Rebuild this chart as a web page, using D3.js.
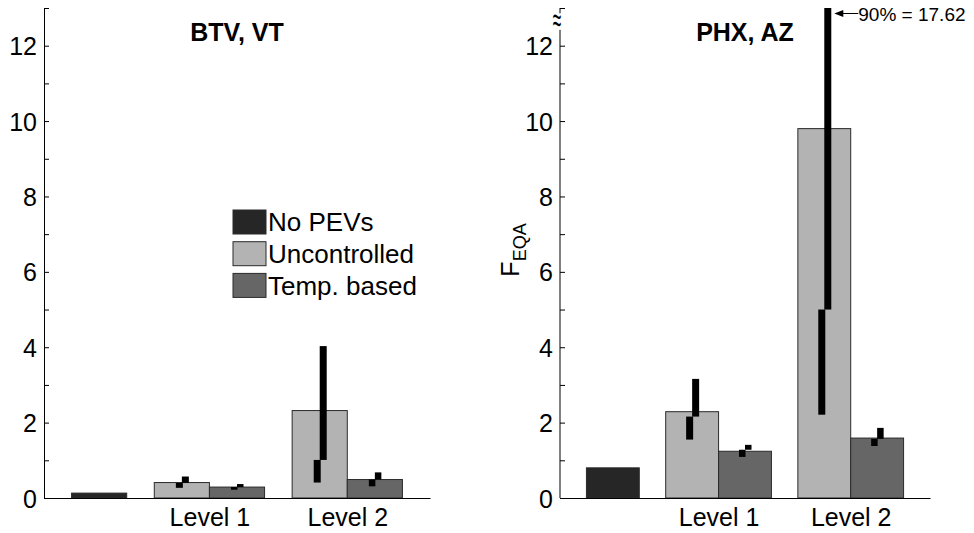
<!DOCTYPE html>
<html>
<head>
    <meta charset="UTF-8">
    <title>F_EQA - BTV / PHX</title>
    <script src="https://d3js.org/d3.v7.min.js"></script>
    <style>
        body { margin: 0; background: #fff; }
        svg { display: block; font-family: "Liberation Sans", Arial, Helvetica, sans-serif; }
        .axis path, .axis line { stroke: #000; stroke-width: 1px; }
        .axis text { font-size: 25px; fill: #000; }
    </style>
</head>
<body>
<div id="chart"></div>
<script>
    // dati
    var sites = ["BTV, VT", "PHX, AZ"];
    var seriesNames = ["No PEVs", "Uncontrolled", "Temp. based"];
    var levels = ["Level 1", "Level 2"];
    var levelPos = [2, 3];
    var noPevPos = 1.2;
    var yTicks = [0, 1, 2, 3, 4, 5, 6, 7, 8, 9, 10, 11, 12, 13];

    var noPev = [0.13, 0.80];
    var uncontrolled = [[0.41, 2.32], [2.29, 9.80]];
    var tempBased = [[0.29, 0.49], [1.24, 1.59]];

    // percentili 10 / 50 / 90
    var uncP10 = [[0.27, 0.41], [1.55, 2.21]];
    var uncP50 = [[0.40, 1.01], [2.16, 5.00]];
    var uncP90 = [[0.57, 4.03], [3.16, 17.62]];
    var tmpP10 = [[0.22, 0.31], [1.09, 1.38]];
    var tmpP50 = [[0.29, 0.49], [1.28, 1.57]];
    var tmpP90 = [[0.37, 0.68], [1.41, 1.86]];

    var colors = ["#262626", "#b3b3b3", "#666666"];

    var W = 974, H = 533;
    var svg = d3.select("#chart").append("svg").attr("width", W).attr("height", H);

    var panels = [
        { left: 44, right: 430, legend: true, brk: false },
        { left: 560, right: 930, legend: false, brk: true }
    ];
    var plotTop = 8, plotBottom = 498;
    var barW = 0.4;

    panels.forEach(function (p, i) {
        var g = svg.append("g");
        var x = d3.scaleLinear().domain([0.8, 3.6]).range([p.left, p.right]);
        var y = d3.scaleLinear().domain([0, 13]).range([plotBottom, plotTop]);

        var clipId = "clip" + i;
        svg.append("clipPath").attr("id", clipId).append("rect")
            .attr("x", p.left).attr("y", plotTop).attr("width", p.right - p.left).attr("height", plotBottom - plotTop);

        // barre
        var bars = [{ x0: noPevPos - barW / 2, v: noPev[i], c: 0 }];
        levels.forEach(function (l, j) {
            bars.push({ x0: levelPos[j] - barW, v: uncontrolled[i][j], c: 1 });
            bars.push({ x0: levelPos[j], v: tempBased[i][j], c: 2 });
        });
        g.selectAll(".bar").data(bars).enter().append("rect")
            .attr("class", "bar")
            .attr("x", function (d) { return x(d.x0); })
            .attr("width", function (d) { return x(d.x0 + barW) - x(d.x0); })
            .attr("y", function (d) { return y(d.v); })
            .attr("height", function (d) { return y(0) - y(d.v); })
            .attr("fill", function (d) { return colors[d.c]; })
            .attr("stroke", "#2a2a2a")
            .attr("stroke-width", 1);

        // intervalli (10-50 a sinistra, 50-90 a destra)
        var errs = [];
        levels.forEach(function (l, j) {
            var cu = levelPos[j] - barW / 2, ct = levelPos[j] + barW / 2;
            errs.push({ c: cu, lo: uncP10[i][j], hi: uncP50[i][j], dx0: -6, dx1: 1 });
            errs.push({ c: cu, lo: uncP50[i][j], hi: uncP90[i][j], dx0: 0, dx1: 7 });
            errs.push({ c: ct, lo: tmpP10[i][j], hi: tmpP50[i][j], dx0: -6, dx1: 0.5 });
            errs.push({ c: ct, lo: tmpP50[i][j], hi: tmpP90[i][j], dx0: 0, dx1: 6.5 });
        });
        g.append("g").attr("clip-path", "url(#" + clipId + ")")
            .selectAll("rect").data(errs).enter().append("rect")
            .attr("x", function (d) { return x(d.c) + d.dx0; })
            .attr("width", function (d) { return d.dx1 - d.dx0; })
            .attr("y", function (d) { return y(d.hi); })
            .attr("height", function (d) { return y(d.lo) - y(d.hi); })
            .attr("fill", "#000");

        // asse y
        var yAxis = d3.axisLeft(y).tickValues(yTicks)
            .tickSizeInner(-5).tickSizeOuter(0).tickPadding(7)
            .tickFormat(function (d) { return d % 2 === 0 ? d : ""; });
        var ya = g.append("g").attr("class", "axis")
            .attr("transform", "translate(" + p.left + ",0)")
            .call(yAxis);
        ya.selectAll("text").attr("dy", "0.36em");
        if (p.brk) {
            ya.select(".domain").remove();
            ya.append("line").attr("x1", 0).attr("x2", 0).attr("y1", y(13)).attr("y2", y(12.86));
            ya.append("line").attr("x1", 0).attr("x2", 0).attr("y1", y(12.42)).attr("y2", y(0));
            ya.append("text")
                .attr("transform", "translate(-3," + y(12.64) + ") scale(0.7,1.6)")
                .attr("text-anchor", "middle").attr("dy", "0.3em")
                .style("font-size", "22px").text("\u2248");
        }

        // asse x
        var xAxis = d3.axisBottom(x).tickValues(levelPos)
            .tickSize(0).tickPadding(10)
            .tickFormat(function (d, k) { return levels[k]; });
        g.append("g").attr("class", "axis")
            .attr("transform", "translate(0," + plotBottom + ")")
            .call(xAxis);

        // titolo
        g.append("text")
            .attr("x", x(2.2)).attr("y", 41)
            .attr("text-anchor", "middle")
            .style("font-size", "25px").style("font-weight", "bold")
            .text(sites[i]);

        if (p.legend) {
            var lg = g.append("g").attr("transform", "translate(233,210)");
            seriesNames.forEach(function (s, k) {
                lg.append("rect").attr("x", 0).attr("y", k * 31.7)
                    .attr("width", 33).attr("height", 24)
                    .attr("fill", colors[k]).attr("stroke", "#2a2a2a").attr("stroke-width", 1);
                lg.append("text").attr("x", 35).attr("y", k * 31.7 + 12)
                    .attr("dy", "0.36em").style("font-size", "26px").text(s);
            });
        } else {
            // etichetta asse y
            g.append("text")
                .attr("transform", "translate(519,250) rotate(-90)")
                .attr("text-anchor", "middle")
                .style("font-size", "25px")
                .text("F")
                .append("tspan").attr("dy", 7).style("font-size", "18px").text("EQA");

            // annotazione 90%
            var cu = x(levelPos[1] - barW / 2);
            var ay = 13.5;
            g.append("line").attr("x1", cu + 12).attr("x2", cu + 34)
                .attr("y1", ay).attr("y2", ay).attr("stroke", "#000").attr("stroke-width", 1);
            g.append("path")
                .attr("d", "M" + (cu + 10) + "," + ay + "L" + (cu + 19) + "," + (ay - 3.5) + "L" + (cu + 19) + "," + (ay + 3.5) + "Z")
                .attr("fill", "#000");
            g.append("text").attr("x", cu + 34).attr("y", 20.5)
                .style("font-size", "19px")
                .text("90% = " + uncP90[i][1].toFixed(2));
        }
    });
</script>
</body>
</html>
